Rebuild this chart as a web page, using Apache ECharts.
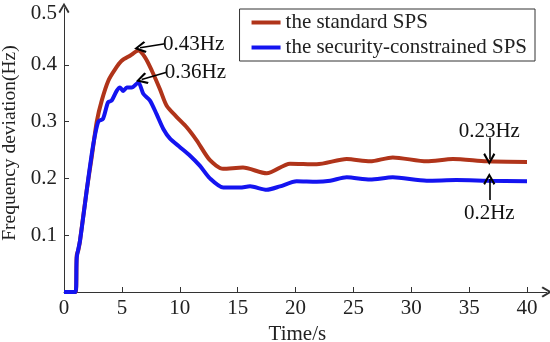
<!DOCTYPE html>
<html>
<head>
<meta charset="utf-8">
<script src="https://cdn.jsdelivr.net/npm/echarts@6/dist/echarts.min.js"></script>
<style>html,body{margin:0;padding:0;background:#fff;}#c{width:550px;height:342px;}</style>
</head>
<body>
<div id="c"></div>
<script>
// ---- data ----
var seriesNames = ['the standard SPS', 'the security-constrained SPS'];
var xTicks = [0, 5, 10, 15, 20, 25, 30, 35, 40];
var yTicks = [0.1, 0.2, 0.3, 0.4, 0.5];

var tStandard = [0, 1.0, 1.1, 1.24, 1.38, 1.96, 2.39, 2.83, 3.26, 3.83, 4.41, 4.98, 5.7, 6.42, 7.0, 7.58, 8.29, 8.87, 9.74, 10.6, 11.46, 12.61, 13.74, 15.46, 17.51, 19.52, 21.83, 24.42, 26.44, 28.4, 31.33, 33.6, 36.52, 40];
var vStandard = [0, 0, 0.065, 0.074, 0.09, 0.179, 0.237, 0.30, 0.337, 0.372, 0.392, 0.407, 0.416, 0.425, 0.413, 0.39, 0.357, 0.328, 0.308, 0.29, 0.267, 0.232, 0.217, 0.219, 0.209, 0.226, 0.225, 0.234, 0.23, 0.237, 0.23, 0.234, 0.23, 0.229];

var tSecure = [0, 1.0, 1.1, 1.38, 1.81, 2.1, 2.53, 2.96, 3.37, 3.8, 4.12, 4.55, 4.84, 5.12, 5.42, 5.85, 6.42, 6.85, 7.43, 8.0, 8.58, 9.16, 10.02, 10.89, 11.75, 12.61, 13.76, 15.2, 16.07, 17.51, 18.66, 20.1, 21.83, 23.0, 24.42, 26.44, 28.4, 31.33, 33.9, 36.52, 40];
var vSecure = [0, 0, 0.06, 0.09, 0.155, 0.2, 0.26, 0.30, 0.305, 0.334, 0.337, 0.354, 0.36, 0.354, 0.36, 0.36, 0.369, 0.349, 0.337, 0.313, 0.287, 0.27, 0.255, 0.24, 0.222, 0.2, 0.184, 0.184, 0.186, 0.18, 0.186, 0.195, 0.194, 0.196, 0.202, 0.198, 0.202, 0.196, 0.197, 0.196, 0.195];

// annotations: [label, tail x, tail y, tip x, tip y]
var annStandard = [['0.43Hz', 8.73, 0.437, 6.57, 0.430], ['0.23Hz', 36.74, 0.272, 36.74, 0.234]];
var annSecure = [['0.36Hz', 8.87, 0.387, 6.71, 0.374], ['0.2Hz', 36.74, 0.162, 36.74, 0.199]];

var colors = ['#b0341a', '#1414f0'];
var FONT = '"Liberation Serif", "Times New Roman", serif';
var chevron = 'path://M5,0 L10,8.3 L8.6,9.5 L5,3.2 L1.4,9.5 L0,8.3 Z';

function pairs(t, v) { return t.map(function (x, i) { return [x, v[i]]; }); }
function annLines(list) {
  return list.map(function (a) {
    var below = a[2] < a[4] && a[1] === a[3];
    var horiz = a[1] !== a[3];
    return [
      { coord: [a[1], a[2]], label: { formatter: a[0], distance: below ? 3 : (horiz ? -2 : -4) } },
      { coord: [a[3], a[4]] }
    ];
  });
}

var chart = echarts.init(document.getElementById('c'));
chart.setOption({
  animation: false,
  textStyle: { fontFamily: FONT },
  grid: { left: 64, right: 3.3, top: 8, bottom: 50, containLabel: false, outerBoundsMode: 'none' },
  legend: {
    right: 15, top: 9, orient: 'vertical',
    borderColor: '#333', borderWidth: 1, borderRadius: 0,
    padding: [3, 8, 3, 12],
    icon: 'rect', itemWidth: 29, itemHeight: 4, itemGap: 4,
    textStyle: { fontFamily: FONT, fontSize: 21, color: '#222' },
    data: seriesNames
  },
  xAxis: {
    type: 'value', min: 0, max: 41.7, interval: 5,
    name: 'Time/s', nameLocation: 'middle', nameGap: 30,
    nameTextStyle: { fontFamily: FONT, fontSize: 21, color: '#222', padding: [0, 16, 0, 0] },
    axisLine: { lineStyle: { color: '#333', width: 1 }, symbol: ['none', chevron], symbolSize: [11, 11] },
    axisTick: { inside: true, length: 5, lineStyle: { color: '#333' }, customValues: xTicks },
    axisLabel: { fontFamily: FONT, fontSize: 21, color: '#222', margin: 6, customValues: xTicks },
    splitLine: { show: false }
  },
  yAxis: {
    type: 'value', min: 0, max: 0.5, interval: 0.1,
    name: 'Frequency deviation(Hz)', nameLocation: 'middle', nameGap: 33,
    nameTextStyle: { fontFamily: FONT, fontSize: 19.5, color: '#222', padding: [0, 0, 0, 14] },
    axisLine: { show: true, lineStyle: { color: '#333', width: 1 }, symbol: ['none', chevron], symbolSize: [11, 11] },
    axisTick: { show: true, inside: true, length: 5, lineStyle: { color: '#333' }, customValues: [0.1, 0.2, 0.3, 0.4] },
    axisLabel: {
      fontFamily: FONT, fontSize: 21, color: '#222', margin: 7, customValues: yTicks,
      formatter: function (v) { return v >= 0.5 ? '{top|' + v + '}' : String(v); },
      rich: { top: { fontFamily: FONT, fontSize: 21, color: '#222', padding: [10, 0, 0, 0] } }
    },
    splitLine: { show: false }
  },
  series: [
    {
      name: seriesNames[0], type: 'line', data: pairs(tStandard, vStandard),
      symbol: 'none', smooth: 0.25, color: colors[0],
      lineStyle: { width: 4, color: colors[0] },
      markLine: {
        silent: true, symbol: ['none', chevron], symbolSize: [12, 12],
        lineStyle: { color: '#000', width: 1.6, type: 'solid' },
        label: { position: 'start', fontFamily: FONT, fontSize: 21, color: '#111' },
        data: annLines(annStandard)
      }
    },
    {
      name: seriesNames[1], type: 'line', data: pairs(tSecure, vSecure),
      symbol: 'none', smooth: 0.25, color: colors[1],
      lineStyle: { width: 4, color: colors[1] },
      markLine: {
        silent: true, symbol: ['none', chevron], symbolSize: [12, 12],
        lineStyle: { color: '#000', width: 1.6, type: 'solid' },
        label: { position: 'start', fontFamily: FONT, fontSize: 21, color: '#111' },
        data: annLines(annSecure)
      }
    }
  ]
});
</script>
</body>
</html>
